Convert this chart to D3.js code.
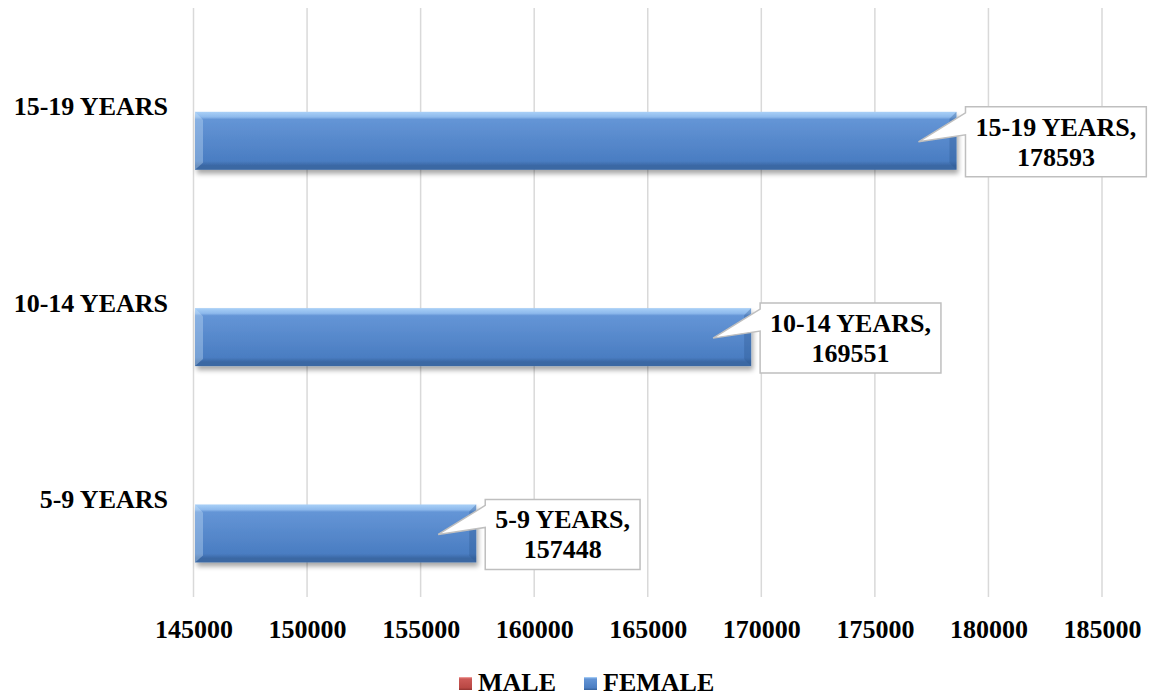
<!DOCTYPE html>
<html><head><meta charset="utf-8">
<script src="https://cdn.jsdelivr.net/npm/d3@7"></script>
<style>
html,body{margin:0;padding:0;background:#fff;}
svg text{font-family:"Liberation Serif","Times New Roman",serif;font-weight:bold;fill:#000;}
</style></head>
<body><svg id="chart" width="1150" height="697"></svg>
<script>
// Data
const categories = ["15-19 YEARS", "10-14 YEARS", "5-9 YEARS"];
const femaleValues = [178593, 169551, 157448];
const maleValues = [null, null, null]; // not visible in the chart (below axis minimum)
const seriesNames = ["MALE", "FEMALE"];
const xTicks = [145000, 150000, 155000, 160000, 165000, 170000, 175000, 180000, 185000];

const svg = d3.select("#chart");
const W = 1150, H = 697;
const plot = {left: 193.5, right: 1102, top: 8, bottom: 597};

const x = d3.scaleLinear().domain([145000, 185000]).range([plot.left, plot.right]);
const y = d3.scaleBand().domain(categories).range([plot.top, plot.bottom]).padding(0);
const ySub = d3.scaleBand().domain(seriesNames).range([0, y.bandwidth()])
  .paddingInner(0).paddingOuter(0.693).align(0.57);

const defs = svg.append("defs");
function barGrad(id, c0, c1, c2, c3, c4) {
  const g = defs.append("linearGradient").attr("id", id).attr("x1", 0).attr("y1", 0).attr("x2", 0).attr("y2", 1);
  [[0, c0], [0.09, c1], [0.13, c2], [0.85, c3], [0.93, c4], [1, c4]].forEach(([o, c]) =>
    g.append("stop").attr("offset", o).attr("stop-color", c));
}
barGrad("gFemale", "#a9d0f7", "#8db9ec", "#6495d6", "#4a7dc2", "#3a67a3");
barGrad("gMale", "#f3a6a4", "#e07d7a", "#cd5a57", "#b84743", "#9a3734");
const sh = defs.append("filter").attr("id", "shadow").attr("x", "-5%").attr("y", "-20%").attr("width", "110%").attr("height", "160%");
sh.append("feGaussianBlur").attr("in", "SourceAlpha").attr("stdDeviation", 2.5);
sh.append("feOffset").attr("dx", 2).attr("dy", 4).attr("result", "ob");
sh.append("feComponentTransfer").append("feFuncA").attr("type", "linear").attr("slope", 0.35);
const m = sh.append("feMerge"); m.append("feMergeNode"); m.append("feMergeNode").attr("in", "SourceGraphic");

// Gridlines
svg.append("g").selectAll("line").data(xTicks).join("line")
  .attr("x1", d => x(d)).attr("x2", d => x(d))
  .attr("y1", plot.top).attr("y2", plot.bottom)
  .attr("stroke", "#d9d9d9").attr("stroke-width", 1.5);

// X axis labels
const xAxis = d3.axisBottom(x).tickValues(xTicks).tickSize(0).tickPadding(0).tickFormat(d3.format("d"));
const gx = svg.append("g").attr("transform", `translate(0,${plot.bottom})`).call(xAxis);
gx.select(".domain").remove();
gx.selectAll("text").attr("dy", null).attr("y", 41).style("font-size", "26px")
  .style("font-family", '"Liberation Serif",serif').style("font-weight", "bold").attr("fill", "#000");

// Y axis labels
const yAxis = d3.axisLeft(y).tickSize(0).tickPadding(0);
const gy = svg.append("g").attr("transform", `translate(168,0)`).call(yAxis);
gy.select(".domain").remove();
gy.selectAll("text").attr("dy", null).attr("y", 0).attr("dominant-baseline", null)
  .attr("transform", "translate(0,9)").style("font-size", "26px")
  .style("font-family", '"Liberation Serif",serif').style("font-weight", "bold").attr("fill", "#000");

// Bars
function drawBars(values, series, grad, shade) {
  const data = categories.map((c, i) => ({c, v: values[i]})).filter(d => d.v != null && d.v > x.domain()[0]);
  const g = svg.append("g").selectAll("g").data(data).join("g");
  g.append("rect")
    .attr("x", x(x.domain()[0]) + 1.5)
    .attr("y", d => y(d.c) + ySub(series))
    .attr("width", d => x(d.v) - x(x.domain()[0]) - 1.5)
    .attr("height", ySub.bandwidth())
    .attr("fill", `url(#${grad})`).attr("filter", "url(#shadow)");
  // bevel: left triangle corner
  g.append("path").attr("d", d => {
    const x0 = x(x.domain()[0]) + 1.5, y0 = y(d.c) + ySub(series), h = ySub.bandwidth();
    return `M${x0},${y0}L${x0 + 8},${y0 + 8}L${x0 + 8},${y0 + h - 7}L${x0},${y0 + h}Z`;
  }).attr("fill", shade).attr("opacity", 0.35);
  g.append("path").attr("d", d => {
    const x1 = x(d.v), y0 = y(d.c) + ySub(series), h = ySub.bandwidth();
    return `M${x1},${y0}L${x1 - 7},${y0 + 7}L${x1 - 7},${y0 + h - 7}L${x1},${y0 + h}Z`;
  }).attr("fill", "#2d5a92").attr("opacity", 0.35);
  return data;
}
drawBars(maleValues, "MALE", "gMale", "#f7c6c5");
const fData = drawBars(femaleValues, "FEMALE", "gFemale", "#cfe4fa");

// Callout data labels
const labels = svg.append("g").selectAll("g").data(fData).join("g");
labels.each(function(d) {
  const g = d3.select(this);
  const xe = x(d.v), yc = y(d.c) + ySub("FEMALE") + ySub.bandwidth() / 2;
  const t = g.append("text").attr("text-anchor", "middle").style("font-size", "26px");
  const l1 = t.append("tspan").text(d.c + ",");
  const tw = Math.max(l1.node().getComputedTextLength(), 80);
  const bw = tw + 20, bh = 70;
  const bx = xe + 9, by = yc - bh / 2 + 1;
  t.attr("x", bx + bw / 2);
  l1.attr("x", bx + bw / 2).attr("y", by + 29);
  t.append("tspan").attr("x", bx + bw / 2).attr("y", by + 59).text(d3.format("d")(d.v));
  g.insert("path", "text")
    .attr("d", `M${bx},${by}H${bx + bw}V${by + bh}H${bx}V${by + 28}L${xe - 38},${yc + 1}L${bx},${by + 6}Z`)
    .attr("fill", "#fff").attr("stroke", "#bfbfbf").attr("stroke-width", 1.5);
});

// Legend
const legendItems = [
  {name: "MALE", grad: "gMale", x: 459},
  {name: "FEMALE", grad: "gFemale", x: 584}
];
const lg = svg.append("g").selectAll("g").data(legendItems).join("g");
lg.append("rect").attr("x", d => d.x).attr("y", 677).attr("width", 13).attr("height", 13)
  .attr("fill", d => `url(#${d.grad})`);
lg.append("text").attr("x", d => d.x + 19).attr("y", 691).style("font-size", "26px").text(d => d.name);
</script></body></html>
